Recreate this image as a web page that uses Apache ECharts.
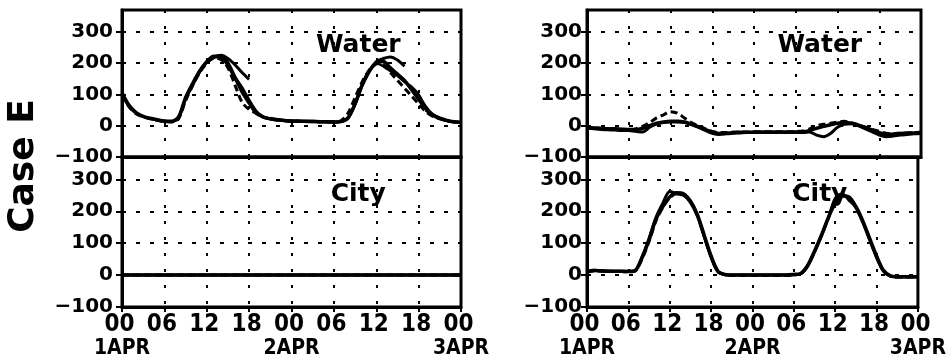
<!DOCTYPE html>
<html>
<head>
<meta charset="utf-8">
<script src="https://cdn.jsdelivr.net/npm/echarts@6/dist/echarts.min.js"></script>
<style>
  html, body { margin: 0; padding: 0; background: #fff; }
  #chart { width: 949px; height: 364px; }
</style>
</head>
<body>
<div id="chart"></div>
<script>
// Hourly time axis, 00 1APR .. 00 3APR
const hours = Array.from({ length: 49 }, (_, i) => i);
const hourLabels = ['00', '06', '12', '18', '00', '06', '12', '18', '00'];
const dayLabels = ['1APR', '2APR', '3APR'];
const xTicks = [0, 6, 12, 18, 24, 30, 36, 42, 48];
const dayTicks = [0, 24, 48];
const yTicks = [-100, 0, 100, 200, 300];

// Case E, experiment over water (left) — hourly values
const leftWaterA = [105, 65, 42, 30, 24, 19, 15, 14, 28, 90, 135, 175, 205, 222, 222, 200, 155, 120, 80, 45, 28, 22, 19, 17, 15, 15, 14, 14, 13, 13, 12, 14, 25, 70, 130, 175, 200, 205, 185, 165, 145, 115, 85, 55, 35, 24, 17, 13, 11];
const leftWaterB = [100, 62, 40, 29, 23, 18, 14, 13, 25, 85, 130, 172, 203, 218, 225, 215, 195, 170, 148, null, null, 24, 20, 17, 15, 14, 14, 13, 13, 12, 12, 13, 24, 68, 128, 172, 205, 215, 220, 210, 190, null, null, 50, 33, 23, 16, 12, 10];
const leftWaterC = [98, 60, 38, 28, 22, 17, 13, 12, 22, 80, 128, 170, 200, 215, 212, 185, 130, 75, 52, 40, 28, 22, 18, 16, 14, 14, 13, 13, 12, 12, 12, 16, 40, 90, 140, 178, 198, 195, 170, 145, 120, 95, 70, 45, 30, 22, 16, 12, 10];
const leftWaterD = [102, 63, 41, 30, 23, 18, 14, 13, 26, 88, 132, 174, 204, 220, 218, 190, 150, 105, 70, 38, 27, 21, 18, 16, 15, 14, 14, 13, 13, 12, 12, 13, 26, 72, 132, 176, 200, 190, 175, 160, 140, 125, 100, 62, 36, 24, 17, 13, 11];

// Case E, experiment over the city (left) — all members stay at zero
const leftCityA = hours.map(() => 0);
const leftCityB = hours.map(() => 0);
const leftCityC = hours.map(() => 0);

// Right-hand experiment, water
const rightWaterA = [-5, -7, -8, -10, -10, -11, -12, -12, -8, 0, 8, 12, 14, 14, 12, 5, -3, -12, -20, -25, -24, -22, -21, -21, -20, -20, -20, -20, -20, -20, -20, -20, -15, -8, -2, 3, 8, 10, 8, 2, -5, -14, -22, -27, -27, -25, -24, -23, -22];
const rightWaterB = [-8, -10, -12, -13, -14, -15, -15, -18, -20, -5, 5, 10, 12, 12, 10, 4, -5, -15, -24, -28, -26, -24, -23, -22, -22, -22, -22, -22, -22, -22, -21, -22, -20, -30, -35, -25, -5, 5, 6, 0, -10, -20, -30, -35, -33, -30, -28, -26, -25];
const rightWaterC = [-6, -8, -10, -11, -12, -13, -13, -10, -2, 10, 25, 35, 45, 40, 25, 10, 0, -10, -18, -22, -22, -21, -20, -20, -19, -19, -19, -19, -19, -19, -18, -17, -10, 0, 5, 8, 12, 14, 10, 3, -5, -12, -18, -24, -25, -24, -23, -22, -21];

// Right-hand experiment, city
const rightCityA = [10, 14, 13, 12, 12, 12, 11, 14, 55, 110, 175, 215, 245, 258, 255, 232, 190, 125, 60, 12, 2, 0, 0, 0, 0, 0, 0, 0, 0, 0, 2, 5, 30, 75, 125, 180, 225, 248, 245, 215, 170, 115, 60, 15, -2, -5, -5, -5, -5];
const rightCityB = [12, 15, 14, 13, 12, 12, 12, 15, 58, 115, 180, 225, 262, 255, 250, 228, 185, 120, 55, 10, 1, 0, 0, 0, 0, 0, 0, 0, 0, 0, 1, 4, 28, 72, 122, 178, 240, 255, 235, 212, 165, 110, 55, 12, -3, -6, -6, -6, -6];
const rightCityC = [9, 13, 12, 11, 11, 11, 10, 13, 52, 105, 170, 212, 242, 255, 252, 230, 188, 122, 58, 11, 1, -1, -1, -1, -1, -1, -1, -1, -1, -1, 1, 4, 29, 73, 123, 178, 228, 250, 242, 212, 168, 112, 58, 13, -3, -6, -6, -6, -6];

const panels = [
  { grid: { left: 122, top: 10, width: 339, height: 147 }, bottom: false, labelMargin: 9,
    series: [leftWaterA, leftWaterB, leftWaterC, leftWaterD], title: 'Water' },
  { grid: { left: 122, top: 157, width: 339, height: 150 }, bottom: true, labelMargin: 9,
    series: [leftCityA, leftCityB, leftCityC], title: 'City' },
  { grid: { left: 587, top: 10, width: 334, height: 147 }, bottom: false, labelMargin: 5,
    series: [rightWaterA, rightWaterB, rightWaterC], title: 'Water' },
  { grid: { left: 587, top: 157, width: 334, height: 150 }, bottom: true, labelMargin: 5,
    series: [rightCityA, rightCityB, rightCityC], title: 'City' }
];

const lineStyles = [
  { type: 'solid', width: 3.5 },
  { type: 'solid', width: 3 },
  { type: [7, 4], width: 3 },
  { type: 'solid', width: 2.5 }
];

const narrow = "'Liberation Sans Narrow', 'DejaVu Sans Condensed', sans-serif";
const gridDash = { color: '#000', width: 2 };

const xAxes = [];
panels.forEach((p, gi) => {
  // hour axis (draws the frame, ticks and vertical grid)
  xAxes.push({
    type: 'value', gridIndex: gi, min: 0, max: 48, interval: 6,
    axisLine: { show: true, onZero: false, lineStyle: { color: '#000', width: 3 } },
    axisTick: { show: p.bottom, length: 5, customValues: xTicks, lineStyle: { color: '#000', width: 2 } },
    axisLabel: {
      show: p.bottom, margin: 7, color: '#000', customValues: xTicks,
      showMinLabel: true, showMaxLabel: true, hideOverlap: false,
      formatter: v => '{h|' + hourLabels[Math.round(v / 6)] + '}',
      rich: {
        h: { fontFamily: narrow, fontWeight: 'bold', fontSize: 24, lineHeight: 22, color: '#000', padding: [0, 5, 0, 0] }
      }
    },
    splitLine: { show: true, lineStyle: Object.assign({ type: [3, 13] }, gridDash) }
  });
});
panels.forEach((p, gi) => {
  if (!p.bottom) return;
  // day axis: date line under the hour labels
  xAxes.push({
    type: 'value', gridIndex: gi, min: 0, max: 48, interval: 24, position: 'bottom',
    axisLine: { show: false }, axisTick: { show: false }, splitLine: { show: false },
    axisLabel: {
      show: true, margin: 31, color: '#000', customValues: dayTicks,
      showMinLabel: true, showMaxLabel: true, hideOverlap: false,
      fontFamily: narrow, fontWeight: 'bold', fontSize: 21,
      formatter: v => dayLabels[Math.round(v / 24)]
    }
  });
});

const option = {
  animation: false,
  backgroundColor: '#fff',
  grid: panels.map(p => Object.assign({ show: true, borderColor: '#000', borderWidth: 3, backgroundColor: 'transparent' }, p.grid)),
  xAxis: xAxes,
  yAxis: panels.map((p, gi) => ({
    type: 'value', gridIndex: gi, min: -100, max: 370, interval: 100,
    axisLine: { show: true, onZero: false, lineStyle: { color: '#000', width: 3 } },
    axisTick: { show: true, length: 6, customValues: yTicks, lineStyle: { color: '#000', width: 2 } },
    axisLabel: {
      show: true, margin: p.labelMargin, color: '#000', customValues: yTicks,
      showMinLabel: true, showMaxLabel: true, hideOverlap: false,
      fontFamily: "'DejaVu Sans', sans-serif", fontWeight: 'bold', fontSize: 20,
      formatter: v => String(v).replace('-', '\u2212')
    },
    splitLine: { show: true, lineStyle: Object.assign({ type: [4, 10] }, gridDash) }
  })),
  series: [],
  graphic: []
};

panels.forEach((p, gi) => {
  p.series.forEach((vals, si) => {
    const ls = lineStyles[si % lineStyles.length];
    option.series.push({
      type: 'line', xAxisIndex: gi, yAxisIndex: gi,
      data: hours.map(h => [h, vals[h]]),
      showSymbol: false, smooth: 0.3, connectNulls: false,
      lineStyle: { color: '#000', width: ls.width, type: ls.type },
      z: 3
    });
  });
  option.graphic.push({
    type: 'text',
    x: p.grid.left + p.grid.width * 0.697,
    y: p.grid.top + (p.bottom ? 37 : 35),
    style: {
      text: p.title, fill: '#000', align: 'center', verticalAlign: 'middle',
      font: "bold 25px 'DejaVu Sans', sans-serif"
    },
    z: 10
  });
});

// Row label, rotated to read bottom-to-top
option.graphic.push({
  type: 'text', x: 24, y: 166, rotation: Math.PI / 2,
  style: {
    text: 'Case E', fill: '#000', align: 'center', verticalAlign: 'middle',
    font: "bold 36px 'DejaVu Sans', sans-serif"
  }
});

const chart = echarts.init(document.getElementById('chart'), null, { renderer: 'canvas' });
chart.setOption(option);
</script>
</body>
</html>
